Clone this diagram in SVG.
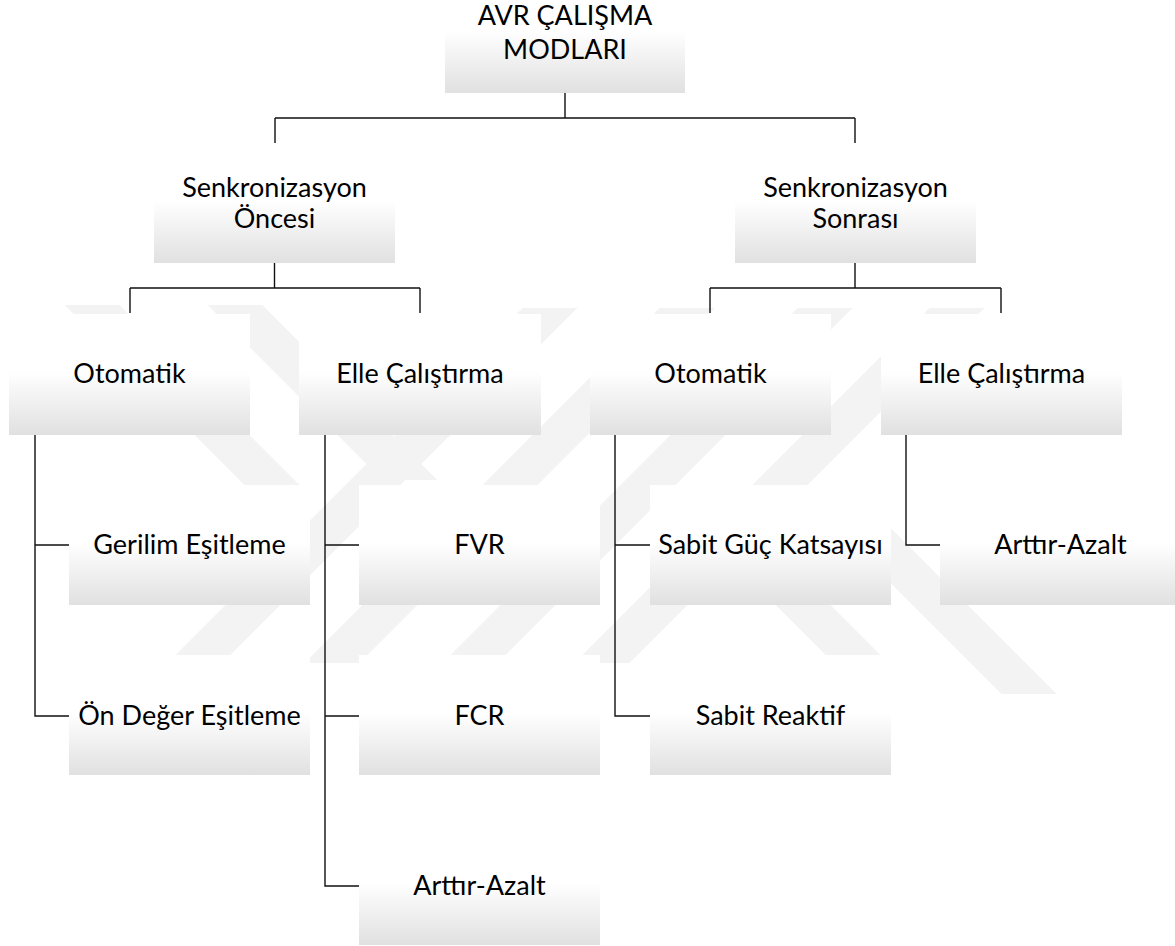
<svg xmlns="http://www.w3.org/2000/svg" width="1175" height="946" viewBox="0 0 1175 946">
  <defs>
    <linearGradient id="boxFill" x1="0" y1="0" x2="0" y2="1">
      <stop offset="0" stop-color="#ffffff"/>
      <stop offset="0.48" stop-color="#ffffff"/>
      <stop offset="1" stop-color="#e0e0e0"/>
    </linearGradient>
    <style>
      .box { fill: url(#boxFill); stroke: none; }
      .lbl { font-family: Lato, "Liberation Sans", sans-serif; font-size: 27px; fill: #000000; text-anchor: middle; }
      .conn { fill: none; stroke: #111111; stroke-width: 1.4; }
      .mark { fill: #f3f3f3; }
    </style>
  </defs>

  <rect width="1175" height="946" fill="#ffffff"/>

  <!-- faint background emblem: diagonal bands -->
  <g id="watermark">
    <polygon class="mark" points="522.5,308 577.5,308 222.5,663 167.5,663"/>
    <polygon class="mark" points="659.5,308 714.5,308 359.5,663 304.5,663"/>
    <polygon class="mark" points="797.5,308 852.5,308 497.5,663 442.5,663"/>
    <polygon class="mark" points="929.5,308 984.5,308 629.5,663 574.5,663"/>
    <polygon class="mark" points="64.5,305 119.5,305 305.5,491 250.5,491"/>
    <polygon class="mark" points="207.5,305 262.5,305 437.5,480 382.5,480"/>
    <polygon class="mark" points="655.5,485 710.5,485 888.5,663 833.5,663"/>
    <polygon class="mark" points="792.5,485 847.5,485 1056.5,694 1001.5,694"/>
  </g>

  <!-- connectors -->
  <g id="connectors">
    <path class="conn" d="M565,93 V118 M275,118 H855 M275,118 V143 M855,118 V143"/>
    <path class="conn" d="M274.5,263 V288 M130,288 H420 M130,288 V313 M420,288 V313"/>
    <path class="conn" d="M855,263 V288 M710,288 H1001 M710,288 V313 M1001,288 V313"/>
    <path class="conn" d="M35,435 V716 H69 M35,545 H69"/>
    <path class="conn" d="M325,435 V886 H359 M325,545 H359 M325,716 H359"/>
    <path class="conn" d="M615,435 V716 H650 M615,545 H650"/>
    <path class="conn" d="M906,435 V545 H940"/>
  </g>

  <g id="root">
    <rect class="box" x="445" y="-27" width="240" height="120"/>
    <text class="lbl" x="565" y="25">AVR ÇALIŞMA</text>
    <text class="lbl" x="565" y="59">MODLARI</text>
  </g>

  <g id="senk-oncesi">
    <rect class="box" x="154" y="143" width="241" height="120"/>
    <text class="lbl" x="274.5" y="197">Senkronizasyon</text>
    <text class="lbl" x="274.5" y="228">Öncesi</text>
  </g>

  <g id="senk-sonrasi">
    <rect class="box" x="735" y="143" width="241" height="120"/>
    <text class="lbl" x="855.5" y="197">Senkronizasyon</text>
    <text class="lbl" x="855.5" y="228">Sonrası</text>
  </g>

  <g id="oncesi-otomatik">
    <rect class="box" x="9" y="314" width="241" height="121"/>
    <text class="lbl" x="129.5" y="383">Otomatik</text>
  </g>

  <g id="oncesi-elle">
    <rect class="box" x="299" y="314" width="242" height="121"/>
    <text class="lbl" x="420" y="383">Elle Çalıştırma</text>
  </g>

  <g id="sonrasi-otomatik">
    <rect class="box" x="590" y="314" width="241" height="121"/>
    <text class="lbl" x="710.5" y="383">Otomatik</text>
  </g>

  <g id="sonrasi-elle">
    <rect class="box" x="881" y="314" width="241" height="121"/>
    <text class="lbl" x="1001.5" y="383">Elle Çalıştırma</text>
  </g>

  <g id="gerilim-esitleme">
    <rect class="box" x="69" y="485" width="241" height="120"/>
    <text class="lbl" x="189.5" y="554">Gerilim Eşitleme</text>
  </g>

  <g id="on-deger-esitleme">
    <rect class="box" x="69" y="655" width="241" height="120"/>
    <text class="lbl" x="189.5" y="725">Ön Değer Eşitleme</text>
  </g>

  <g id="fvr">
    <rect class="box" x="359" y="485" width="241" height="120"/>
    <text class="lbl" x="479.5" y="554">FVR</text>
  </g>

  <g id="fcr">
    <rect class="box" x="359" y="655" width="241" height="120"/>
    <text class="lbl" x="479.5" y="725">FCR</text>
  </g>

  <g id="oncesi-arttir-azalt">
    <rect class="box" x="359" y="825" width="241" height="120"/>
    <text class="lbl" x="479.5" y="895">Arttır-Azalt</text>
  </g>

  <g id="sabit-guc-katsayisi">
    <rect class="box" x="650" y="485" width="241" height="120"/>
    <text class="lbl" x="770.5" y="554">Sabit Güç Katsayısı</text>
  </g>

  <g id="sabit-reaktif">
    <rect class="box" x="650" y="655" width="241" height="120"/>
    <text class="lbl" x="770.5" y="725">Sabit Reaktif</text>
  </g>

  <g id="sonrasi-arttir-azalt">
    <rect class="box" x="940" y="485" width="241" height="120"/>
    <text class="lbl" x="1060.5" y="554">Arttır-Azalt</text>
  </g>
</svg>
